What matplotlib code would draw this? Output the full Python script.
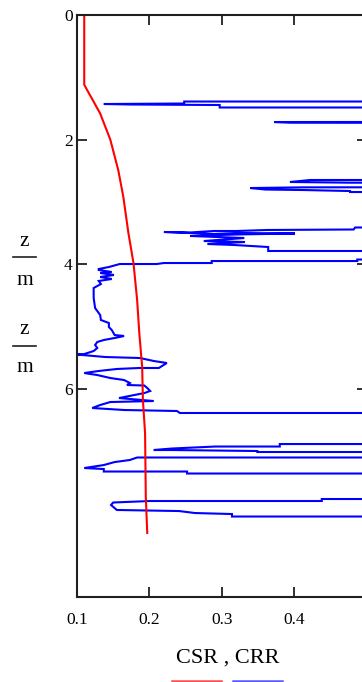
import matplotlib
matplotlib.use("Agg")
import matplotlib.pyplot as plt
from matplotlib.lines import Line2D

plt.rcParams['font.family'] = ['Liberation Serif', 'DejaVu Serif']

# CSR (red) : depth z [m] and value
csr_z = [0.0, 1.12, 1.58, 2.00, 2.49, 2.92, 3.50, 3.98, 4.57, 5.10, 5.65, 6.18, 6.71, 7.73, 8.31]
csr_v = [0.110, 0.110, 0.132, 0.146, 0.157, 0.164, 0.171, 0.178, 0.183, 0.186, 0.190, 0.191, 0.194, 0.195, 0.197]

# CRR (blue) : depth z [m] and value (0.9 = off the visible scale)
OFF = 0.9
crr_z = [1.388, 1.388, 1.420, 1.428, 1.436, 1.444, 1.484, 1.484,
         1.715, 1.717, 1.727, 1.735,
         2.647, 2.647, 2.679, 2.690, 2.700,
         2.760, 2.765, 2.776, 2.800, 2.808, 2.824, 2.840, 2.840,
         3.409, 3.409, 3.441, 3.449, 3.465, 3.465, 3.489, 3.481, 3.497, 3.513, 3.497, 3.505,
         3.521, 3.545, 3.578, 3.626, 3.642, 3.674, 3.690, 3.722, 3.786, 3.786,
         3.915, 3.923, 3.947, 3.947, 3.979, 3.979, 3.995, 3.995, 4.043, 4.075, 4.091, 4.123,
         4.139, 4.171, 4.203, 4.235, 4.267, 4.316, 4.380, 4.540, 4.701, 4.813, 4.893, 4.941,
         5.005, 5.054, 5.134, 5.150, 5.182, 5.214, 5.246, 5.294, 5.342, 5.391, 5.439, 5.447,
         5.487, 5.503, 5.551, 5.583, 5.663, 5.663, 5.679, 5.711, 5.744, 5.776, 5.824, 5.856,
         5.904, 5.936, 5.944, 5.984, 6.032, 6.065, 6.097, 6.145, 6.193, 6.209, 6.257, 6.305,
         6.337, 6.353, 6.385, 6.385,
         6.883, 6.883, 6.923, 6.923, 6.955, 6.979, 6.979, 6.987, 6.995, 7.011, 7.011,
         7.099, 7.099, 7.139, 7.172, 7.220, 7.268, 7.284, 7.324, 7.324, 7.356, 7.356,
         7.765, 7.765, 7.797, 7.797, 7.821, 7.861, 7.941, 7.958, 7.990, 8.006, 8.046, 8.046]
crr_v = [OFF, 0.248, 0.248, 0.137, 0.173, 0.297, 0.297, OFF,
         OFF, 0.372, 0.394, OFF,
         OFF, 0.422, 0.394, 0.476, OFF,
         OFF, 0.413, 0.339, 0.360, 0.413, 0.477, 0.477, OFF,
         OFF, 0.484, 0.482, 0.362, 0.321, 0.289, 0.256, 0.220, 0.256, 0.289, 0.321, 0.401,
         0.321, 0.256, 0.331, 0.275, 0.332, 0.280, 0.317, 0.364, 0.364, OFF,
         OFF, 0.487, 0.487, 0.286, 0.286, 0.220, 0.210, 0.159, 0.144, 0.130, 0.130, 0.148,
         0.132, 0.151, 0.132, 0.148, 0.130, 0.133, 0.123, 0.123, 0.125, 0.132, 0.133, 0.144,
         0.144, 0.148, 0.152, 0.165, 0.152, 0.137, 0.128, 0.125, 0.128, 0.123, 0.110, 0.100,
         0.139, 0.187, 0.206, 0.224, 0.213, 0.186, 0.155, 0.130, 0.110, 0.128, 0.146, 0.165,
         0.173, 0.169, 0.193, 0.197, 0.201, 0.193, 0.179, 0.158, 0.206, 0.146, 0.132, 0.121,
         0.165, 0.238, 0.242, OFF,
         OFF, 0.380, 0.380, 0.291, 0.231, 0.206, 0.231, 0.291, 0.349, 0.349, OFF,
         OFF, 0.183, 0.173, 0.152, 0.137, 0.110, 0.137, 0.137, 0.252, 0.252, OFF,
         OFF, 0.438, 0.438, 0.201, 0.150, 0.147, 0.155, 0.241, 0.263, 0.314, 0.314, OFF]

x_ticks = [0.1, 0.2, 0.3, 0.4]
x_labels = ["0.1", "0.2", "0.3", "0.4"]
y_ticks = [0, 2, 4, 6]
y_labels = ["0", "2", "4", "6"]

W, H = 362, 682
fig = plt.figure(figsize=(W / 100, H / 100), dpi=100)
ax_left, ax_top, ax_bottom, ax_right = 77, 15, 597, 366.7
ax = fig.add_axes([ax_left / W, (H - ax_bottom) / H, (ax_right - ax_left) / W, (ax_bottom - ax_top) / H])

ax.plot(crr_v, crr_z, color=(0, 0, 1), lw=1.5, solid_joinstyle='miter')
ax.plot(csr_v, csr_z, color=(1, 0, 0), lw=1.5)

ax.set_xlim(0.1, 0.5)
ax.set_ylim(9.337, 0)
ax.set_xticks(x_ticks)
ax.set_xticklabels(x_labels)
ax.set_yticks(y_ticks)
ax.set_yticklabels(y_labels)
for s in ax.spines.values():
    s.set_linewidth(1.5)
    s.set_color('#202020')
ax.tick_params(direction='in', length=7.5, width=1.3, top=True, right=True,
               labelsize=12.5, color='#202020')
ax.tick_params(axis='x', pad=11)
ax.tick_params(axis='y', pad=3)

# axis label (Mathcad style)
fig.text(227.5 / W, 1 - 658 / H, "CSR , CRR", ha='center', va='center', fontsize=16)
fig.add_artist(Line2D([172 / W, 221 / W], [0.6 / H, 0.6 / H], color=(1, 0.3, 0.3), lw=1.8))
fig.add_artist(Line2D([233 / W, 282 / W], [0.6 / H, 0.6 / H], color=(0.35, 0.35, 1), lw=1.8))

for zy, by, my in [(242, 257, 280), (330, 346, 368)]:
    fig.text(24.5 / W, 1 - zy / H, "z", ha='center', va='center', fontsize=15.5)
    fig.add_artist(Line2D([13 / W, 36 / W], [1 - by / H, 1 - by / H], color='#202020', lw=1.2))
    fig.text(24.5 / W, 1 - my / H, "m", ha='center', va='center', fontsize=15.5)

fig.savefig("out.png", dpi=100)
